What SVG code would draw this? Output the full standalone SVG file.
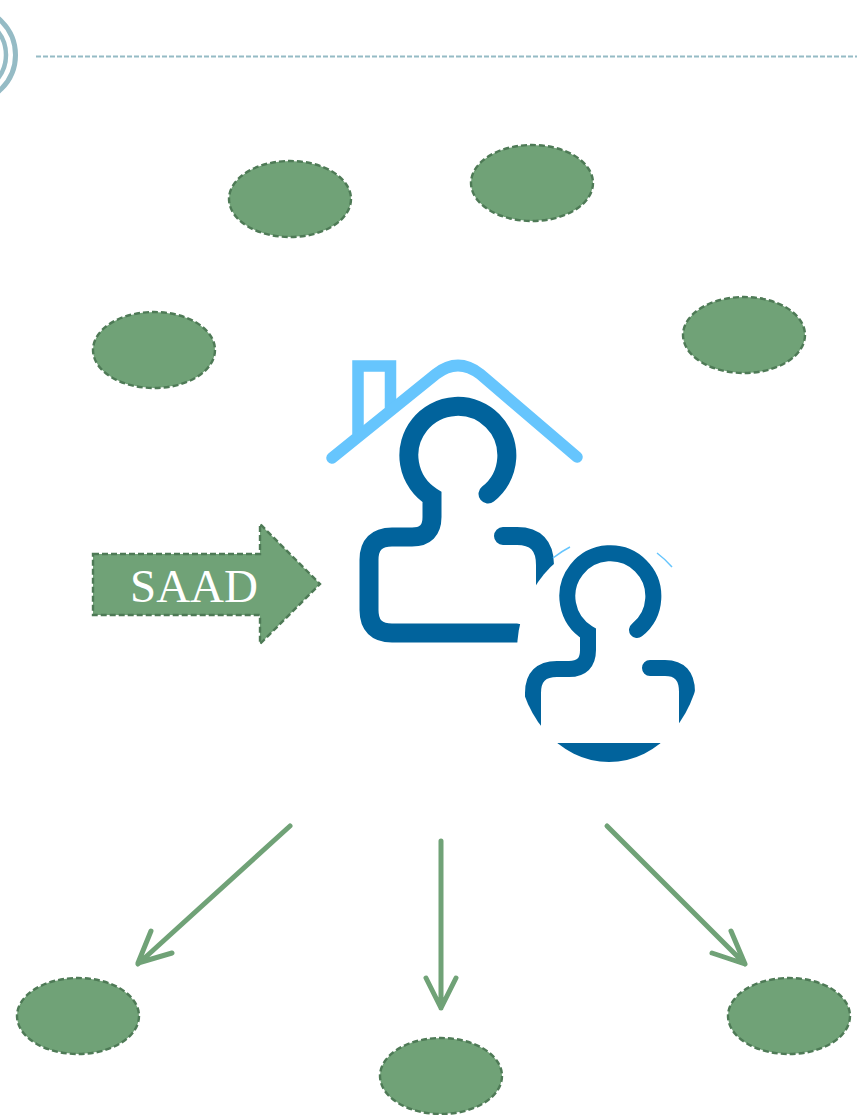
<svg xmlns="http://www.w3.org/2000/svg" width="857" height="1115" viewBox="0 0 857 1115">
<style>
.n{fill:#70a277;stroke:#4e7a56;stroke-width:2.400;stroke-dasharray:6 3}
.c{fill:none;stroke:#70a277;stroke-width:5;stroke-linecap:round;stroke-linejoin:round}
.r{fill:none;stroke:#66c5fd;stroke-width:11.500}
.p{fill:none;stroke:#01639c;stroke-linecap:round}
.h{fill:none;stroke:#95bbc5}
</style>
<defs><clipPath id="clip"><ellipse cx="609" cy="652" rx="92" ry="110"/></clipPath></defs>
<rect width="857" height="1115" fill="#fff"/>
<g id="header">
<circle class="h" cx="-32" cy="55" r="47.500" stroke-width="5"/>
<circle class="h" cx="-32" cy="55" r="38" stroke-width="4.500"/>
<line class="h" x1="36" y1="56.500" x2="857" y2="56.500" stroke-width="2" stroke-dasharray="5 2"/>
</g>
<g id="node1"><ellipse class="n" cx="290" cy="199" rx="61" ry="38"/></g>
<g id="node2"><ellipse class="n" cx="532" cy="183" rx="61" ry="38"/></g>
<g id="node3"><ellipse class="n" cx="154" cy="350" rx="61" ry="38"/></g>
<g id="node4"><ellipse class="n" cx="744" cy="335" rx="61" ry="38"/></g>
<g id="node5"><ellipse class="n" cx="78" cy="1016" rx="61" ry="38"/></g>
<g id="node6"><ellipse class="n" cx="441" cy="1076" rx="61" ry="38"/></g>
<g id="node7"><ellipse class="n" cx="789" cy="1016" rx="61" ry="38"/></g>
<g id="saad">
<polygon class="n" points="93,554 260,554 260,524 320,584 260,644 260,615 93,615"/>
<text x="130" y="602" font-family="'Liberation Serif',serif" font-size="47" fill="#fff">SAAD</text>
</g>
<g id="icon">
<path class="r" d="M358 434V366H390.500V408"/>
<path class="r" stroke-linecap="round" d="M332 458L436 374Q458 357 480 374L577 457"/>
<path class="p" stroke-width="19" d="M488 494A49 49 0 1 0 432 497V517Q432 537 412 537H392Q369 537 369 560V610Q369 633 392 633H517"/>
<path class="p" stroke-width="18" d="M503 536H517Q545 536 545 565V600"/>
<ellipse cx="609" cy="652" rx="92" ry="110" fill="#fff"/>
<path d="M553 558Q562 551 570 547M657 553Q665 559 672 567" fill="none" stroke="#66c5fd" stroke-width="1.500"/>
<g clip-path="url(#clip)">
<path class="p" stroke-width="16" d="M637 630A43 43 0 1 0 588 633V650Q588 669 569 669H557Q533 669 533 693V760"/>
<path class="p" stroke-width="16" d="M650 668H665Q687 668 687 692V760"/>
<rect x="520" y="743" width="180" height="20" fill="#01639c"/>
</g>
</g>
<g id="connectors">
<path class="c" d="M290 826L138 964M151 931L138 963L172 953"/>
<path class="c" d="M441 841V1008M426 978L441 1008L456 978"/>
<path class="c" d="M607 826L745 964M731 931L745 964L712 953"/>
</g>
</svg>
